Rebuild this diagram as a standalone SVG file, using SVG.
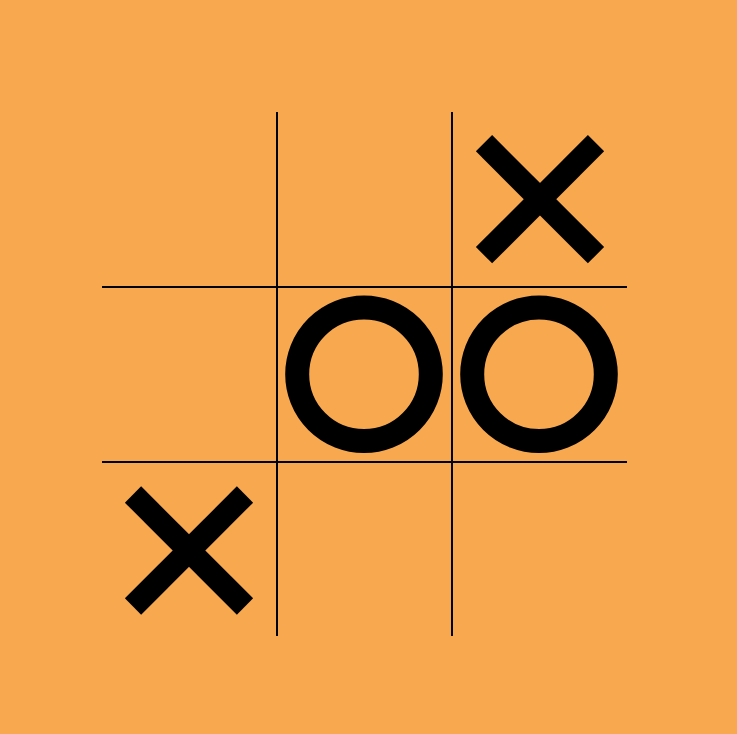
<svg xmlns="http://www.w3.org/2000/svg" width="737" height="734" viewBox="0 0 737 734">
<style>
.grid{stroke:#000;stroke-width:2;fill:none}
.x{stroke:#000;stroke-width:23;stroke-linecap:butt;fill:none}
.o{stroke:#000;stroke-width:24;fill:none}
</style>
<rect width="737" height="734" fill="#F8A84E"/>
<g id="grid" class="grid">
<line x1="277" y1="112" x2="277" y2="636"/>
<line x1="452" y1="112" x2="452" y2="636"/>
<line x1="102" y1="287" x2="627" y2="287"/>
<line x1="102" y1="462" x2="627" y2="462"/>
</g>
<g id="x-top-right" class="x">
<line x1="484" y1="143.2" x2="596" y2="255.2"/>
<line x1="596" y1="143.2" x2="484" y2="255.2"/>
</g>
<g id="o-center" class="o"><circle cx="364" cy="374.3" r="66.8"/></g>
<g id="o-middle-right" class="o"><circle cx="539" cy="374.3" r="66.8"/></g>
<g id="x-bottom-left" class="x">
<line x1="133" y1="494.5" x2="245" y2="606.5"/>
<line x1="245" y1="494.5" x2="133" y2="606.5"/>
</g>
</svg>
